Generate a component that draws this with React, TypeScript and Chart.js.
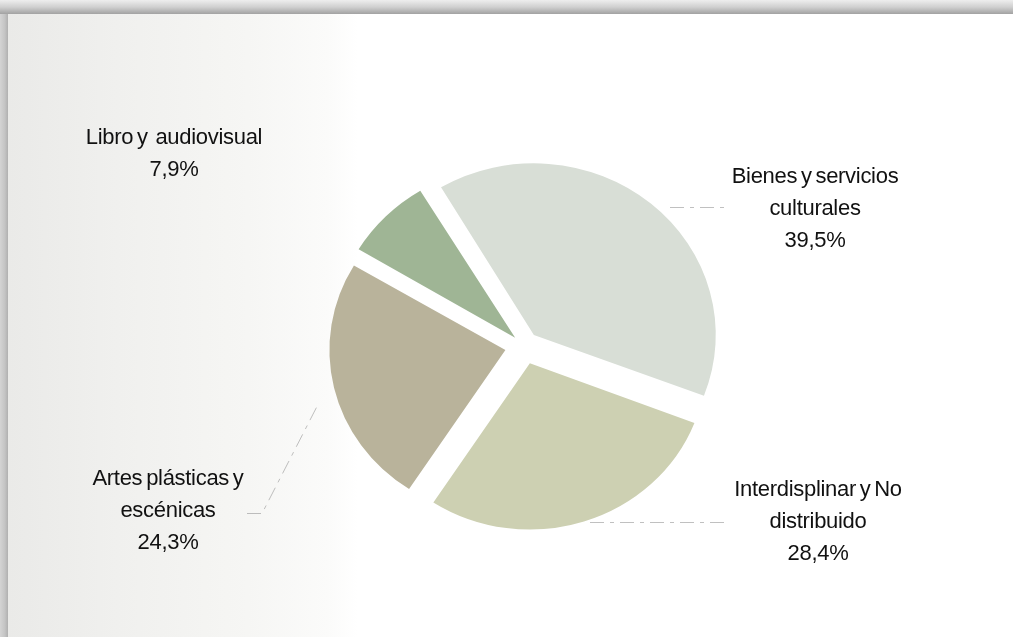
import React, { useEffect, useRef } from "react";
import { Chart, registerables } from "chart.js";

Chart.register(...registerables);

// ---- data ----
const categories = [
  "Bienes y servicios culturales",
  "Interdisplinar y No distribuido",
  "Artes plásticas y escénicas",
  "Libro y  audiovisual",
];
const shares = [39.5, 28.4, 24.3, 7.9];
const nameLines = [
  ["Bienes y servicios", "culturales"],
  ["Interdisplinar y No", "distribuido"],
  ["Artes plásticas y", "escénicas"],
  ["Libro y  audiovisual"],
];
const percentLabels = ["39,5%", "28,4%", "24,3%", "7,9%"];

// ---- styles / layout ----
const sliceColors = ["#d8ded6", "#cdd0b2", "#b9b39b", "#9fb595"];
const sliceOffsets = [58, 72, 72, 47];
const labelOffsets: [number, number][] = [
  [291, -163],
  [294, 150],
  [-356, 139],
  [-350, -202],
];
const leaderLines: ([number, number][] | null)[] = [
  [[146, -139], [201, -139]],
  [[66, 176], [201, 176]],
  [[-277, 167], [-262, 167], [-206, 58]],
  null,
];
const STRETCH_X = 1.06;

const stretchPlugin = {
  id: "stretch",
  beforeDatasetsDraw(chart: any) {
    const arc = chart.getDatasetMeta(0).data[0];
    if (!arc) return;
    const ctx = chart.ctx;
    ctx.save();
    ctx.translate(arc.x, arc.y);
    ctx.scale(STRETCH_X, 1);
    ctx.translate(-arc.x, -arc.y);
  },
  afterDatasetsDraw(chart: any) {
    chart.ctx.restore();
  },
};

const labelPlugin = {
  id: "sliceLabels",
  afterDraw(chart: any) {
    const arc = chart.getDatasetMeta(0).data[0];
    if (!arc) return;
    const cx = arc.x;
    const cy = arc.y;
    const ctx = chart.ctx;
    ctx.save();
    // leader lines
    ctx.strokeStyle = "rgba(150,150,150,0.6)";
    ctx.lineWidth = 1;
    ctx.setLineDash([14, 6, 4, 6]);
    leaderLines.forEach((pts) => {
      if (!pts) return;
      ctx.beginPath();
      pts.forEach(([dx, dy], k) => {
        if (k === 0) ctx.moveTo(cx + dx, cy + dy + 0.5);
        else ctx.lineTo(cx + dx, cy + dy + 0.5);
      });
      ctx.stroke();
    });
    ctx.setLineDash([]);
    // text
    ctx.fillStyle = "#111111";
    ctx.font = '22px "Liberation Sans", Arial, sans-serif';
    ctx.textAlign = "center";
    ctx.textBaseline = "alphabetic";
    try {
      (ctx as any).letterSpacing = "-0.3px";
      (ctx as any).wordSpacing = "-2px";
    } catch (e) {}
    shares.forEach((_, i) => {
      const lines = [...nameLines[i], percentLabels[i]];
      const [dx, dy] = labelOffsets[i];
      lines.forEach((t, k) => {
        ctx.fillText(t, cx + dx, cy + dy + k * 32);
      });
    });
    ctx.restore();
  },
};

export default function App() {
  const canvasRef = useRef<HTMLCanvasElement | null>(null);

  useEffect(() => {
    if (!canvasRef.current) return;
    const chart = new Chart(canvasRef.current, {
      type: "pie",
      data: {
        labels: categories,
        datasets: [
          {
            data: shares,
            backgroundColor: sliceColors,
            borderWidth: 0,
            offset: sliceOffsets,
          },
        ],
      },
      options: {
        animation: false,
        responsive: true,
        maintainAspectRatio: false,
        rotation: -31,
        radius: 166,
        layout: { padding: { left: 35, right: 0, top: 55, bottom: 0 } },
        plugins: {
          legend: { display: false },
          tooltip: { enabled: false },
          title: { display: false },
        },
      } as any,
      plugins: [stretchPlugin, labelPlugin],
    });
    return () => chart.destroy();
  }, []);

  return (
    <div
      style={{
        position: "fixed",
        top: 0,
        left: 0,
        width: 1013,
        height: 637,
        background: "#ffffff",
        overflow: "hidden",
      }}
    >
      <div
        style={{
          position: "absolute",
          top: 0,
          left: 0,
          right: 0,
          height: 14,
          background: "linear-gradient(to bottom, #eeeeee, #d0d0d0 50%, #a2a2a2)",
        }}
      />
      <div
        style={{
          position: "absolute",
          top: 14,
          left: 0,
          width: 8,
          bottom: 0,
          background: "linear-gradient(to right, #d4d4d4, #c4c4c4 60%, #b0b0b0)",
        }}
      />
      <div
        style={{
          position: "absolute",
          top: 14,
          left: 8,
          right: 0,
          bottom: 0,
          background:
            "linear-gradient(to right, #eaeae8 0px, #f0f0ee 110px, #f6f6f4 240px, #fbfbfa 320px, #ffffff 350px)",
        }}
      />
      <div style={{ position: "absolute", top: 0, left: 0, width: 1013, height: 637 }}>
        <canvas ref={canvasRef} />
      </div>
    </div>
  );
}
